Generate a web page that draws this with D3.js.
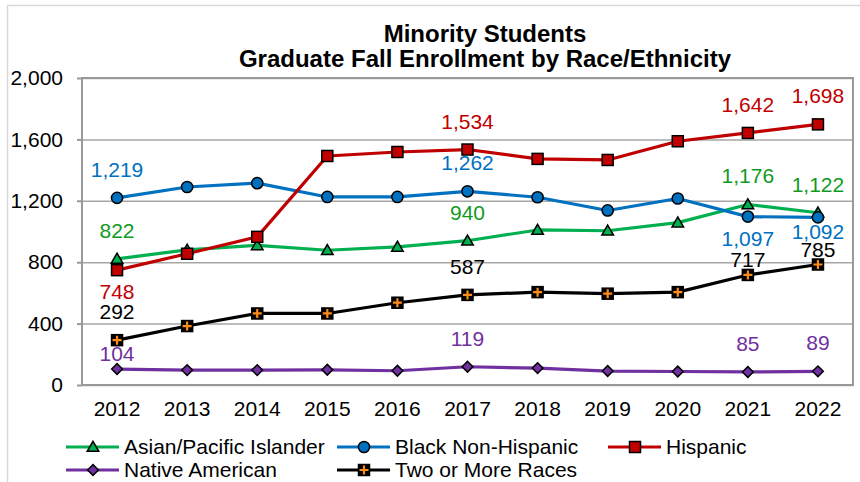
<!DOCTYPE html>
<html>
<head>
<meta charset="utf-8">
<script src="https://cdn.jsdelivr.net/npm/d3@7"></script>
<style>
  body { margin: 0; background: #fff; }
  svg { display: block; font-family: "Liberation Sans", Arial, sans-serif; }
</style>
</head>
<body>
<svg id="chart" width="860" height="482"></svg>
<script>
// Graduate fall enrollment, minority students, by race/ethnicity

const years = [2012, 2013, 2014, 2015, 2016, 2017, 2018, 2019, 2020, 2021, 2022];
const asian = [822, 880, 910, 878, 900, 940, 1010, 1005, 1058, 1176, 1122];
const black = [1219, 1290, 1315, 1225, 1225, 1262, 1223, 1137, 1215, 1097, 1092];
const hispanic = [748, 855, 965, 1492, 1518, 1534, 1473, 1466, 1588, 1642, 1698];
const native = [104, 97, 97, 99, 93, 119, 110, 91, 88, 85, 89];
const twoPlus = [292, 384, 466, 466, 536, 587, 605, 595, 605, 717, 785];
const yTicks = [0, 400, 800, 1200, 1600, 2000];
const titleLines = ["Minority Students", "Graduate Fall Enrollment by Race/Ethnicity"];

// which points get a value label, and where it sits
// a = above, b = below, c = a bit below, n = just above
const labelled = [0, 5, 9, 10];

const series = [
  { name: "Asian/Pacific Islander", values: asian, color: "#00b050", text: "#119a1e", marker: "triangle", fill: "#00b050", place: ["a", "a", "a", "a"] },
  { name: "Black Non-Hispanic", values: black, color: "#0070c0", text: "#0070c0", marker: "circle", fill: "#0070c0", place: ["a", "a", "b", "c"] },
  { name: "Hispanic", values: hispanic, color: "#c00000", text: "#c00000", marker: "square", fill: "#c00000", place: ["b", "a", "a", "a"] },
  { name: "Native American", values: native, color: "#7030a0", text: "#7030a0", marker: "diamond", fill: "#7030a0", place: ["n", "a", "a", "a"] },
  { name: "Two or More Races", values: twoPlus, color: "#000000", text: "#000000", marker: "plus", fill: "#000000", place: ["a", "a", "n", "n"] }
];

const svg = d3.select("#chart");
const margin = { left: 82, right: 853, top: 78, bottom: 385 };
const fs = 21;

// outer chart border
svg.append("rect")
  .attr("x", 7.5).attr("y", 5.5)
  .attr("width", 900).attr("height", 500)
  .attr("fill", "none")
  .attr("stroke", "#d9d9d9")
  .attr("stroke-width", 1.5);

const x = d3.scaleBand().domain(years).range([margin.left, margin.right]);
const y = d3.scaleLinear().domain([0, 2000]).range([margin.bottom, margin.top]);
const cx = d => x(d) + x.bandwidth() / 2;

// title
svg.append("text")
  .attr("x", 485).attr("y", 42)
  .attr("text-anchor", "middle")
  .attr("font-size", 24).attr("font-weight", "bold")
  .selectAll("tspan")
  .data(titleLines)
  .join("tspan")
  .attr("x", 485)
  .attr("dy", (d, i) => i === 0 ? 0 : 24.5)
  .text(d => d);

// gridlines
svg.append("g")
  .attr("transform", `translate(${margin.left},0)`)
  .call(d3.axisLeft(y).tickValues(yTicks).tickSize(-(margin.right - margin.left)).tickFormat(""))
  .call(g => g.select(".domain").remove())
  .call(g => g.selectAll("line").attr("stroke", "#a6a6a6").attr("stroke-width", 1.5));

// plot border
svg.append("rect")
  .attr("x", margin.left).attr("y", margin.top)
  .attr("width", margin.right - margin.left)
  .attr("height", margin.bottom - margin.top)
  .attr("fill", "none")
  .attr("stroke", "#999")
  .attr("stroke-width", 2);

// y axis
svg.append("g")
  .attr("transform", `translate(${margin.left},0)`)
  .call(d3.axisLeft(y).tickValues(yTicks).tickSize(5).tickPadding(14).tickFormat(d3.format(",")))
  .call(g => g.select(".domain").remove())
  .call(g => g.selectAll("line").attr("stroke", "#999").attr("stroke-width", 2))
  .call(g => g.selectAll("text").attr("font-size", fs).attr("fill", "#000")
    .attr("font-family", "Liberation Sans, Arial, sans-serif"));

// x axis
svg.append("g")
  .attr("transform", `translate(0,${margin.bottom})`)
  .call(d3.axisBottom(x).tickSize(0).tickPadding(16))
  .call(g => g.select(".domain").remove())
  .call(g => g.selectAll("text").attr("font-size", fs).attr("fill", "#000")
    .attr("font-family", "Liberation Sans, Arial, sans-serif"));

function drawMarker(g, s) {
  if (s.marker === "circle") {
    g.append("circle").attr("r", 5.6).attr("fill", s.fill).attr("stroke", "#000").attr("stroke-width", 1.5);
  } else if (s.marker === "triangle") {
    g.append("path").attr("d", d3.symbol(d3.symbolTriangle, 58)()).attr("transform", "translate(0,1)")
      .attr("fill", s.fill).attr("stroke", "#000").attr("stroke-width", 1.5);
  } else if (s.marker === "square") {
    g.append("rect").attr("x", -5.5).attr("y", -5.5).attr("width", 11).attr("height", 11)
      .attr("fill", s.fill).attr("stroke", "#000").attr("stroke-width", 1.5);
  } else if (s.marker === "diamond") {
    g.append("rect").attr("x", -3.8).attr("y", -3.8).attr("width", 7.6).attr("height", 7.6)
      .attr("transform", "rotate(45)")
      .attr("fill", s.fill).attr("stroke", "#000").attr("stroke-width", 1.5);
  } else if (s.marker === "plus") {
    g.append("rect").attr("x", -5.5).attr("y", -5.5).attr("width", 11).attr("height", 11)
      .attr("fill", "#000").attr("stroke", "#000").attr("stroke-width", 1.5);
    g.append("path").attr("d", "M-4.5,0H4.5M0,-4.5V4.5")
      .attr("stroke", "#ff8c1a").attr("stroke-width", 2.2);
  }
}

const line = d3.line().x((d, i) => cx(years[i])).y(d => y(d));

series.forEach(s => {
  svg.append("path")
    .datum(s.values)
    .attr("fill", "none")
    .attr("stroke", s.color)
    .attr("stroke-width", 3.2)
    .attr("stroke-linejoin", "round")
    .attr("d", line);
});

series.forEach(s => {
  svg.append("g")
    .selectAll("g")
    .data(s.values)
    .join("g")
    .attr("transform", (d, i) => `translate(${cx(years[i])},${y(d)})`)
    .each(function () { drawMarker(d3.select(this), s); });
});

const offset = { a: -21, b: 29, c: 22, n: -8 };
series.forEach(s => {
  svg.append("g")
    .selectAll("text")
    .data(labelled)
    .join("text")
    .attr("x", i => cx(years[i]))
    .attr("y", (i, k) => y(s.values[i]) + offset[s.place[k]])
    .attr("text-anchor", "middle")
    .attr("font-size", fs)
    .attr("fill", s.text)
    .text(i => d3.format(",")(s.values[i]));
});

// legend
const legend = svg.append("g");
series.forEach((s, i) => {
  const col = i % 3, row = Math.floor(i / 3);
  const g = legend.append("g").attr("transform", `translate(${66 + col * 271},${447 + row * 23})`);
  g.append("line").attr("x1", 0).attr("x2", 53).attr("stroke", s.color).attr("stroke-width", 3.2);
  const m = g.append("g").attr("transform", "translate(27,0)");
  drawMarker(m, s);
  g.append("text").attr("x", 58).attr("dy", "0.35em").attr("font-size", fs).text(s.name);
});
</script>
</body>
</html>
